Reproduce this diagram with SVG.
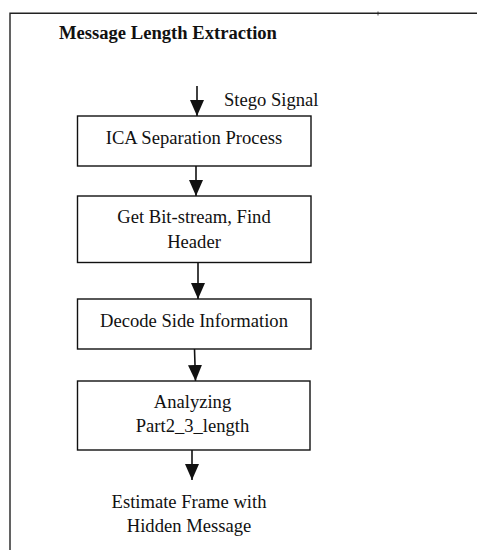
<svg xmlns="http://www.w3.org/2000/svg" width="477" height="550" viewBox="0 0 477 550">
<style>
.t{font-family:"Liberation Serif","Times New Roman",serif;font-size:18.6px;fill:#111;}
.c{text-anchor:middle;}
.b{font-weight:bold;}
.box{fill:#fff;stroke:#111;stroke-width:1.4;}
.ln{stroke:#111;stroke-width:1.6;fill:none;}
.fr{stroke:#222;stroke-width:1.4;fill:none;}
</style>
<defs>
<marker id="ah" markerUnits="userSpaceOnUse" markerWidth="16" markerHeight="16" viewBox="0 0 16 16" refX="16" refY="8" orient="auto">
<path d="M0,1 L16,8 L0,15 Z" fill="#111"/>
</marker>
</defs>
<g id="frame">
<path class="fr" d="M10,550 L10,13.3 L477,13.3"/>
<line x1="378" y1="11.5" x2="378" y2="15.5" stroke="#222" stroke-width="0.8"/>
</g>
<g id="title"><text class="t b" x="59" y="39">Message Length Extraction</text></g>
<g id="connectors">
<line class="ln" x1="197" y1="86" x2="197" y2="116" marker-end="url(#ah)"/>
<line class="ln" x1="196" y1="166" x2="196" y2="196" marker-end="url(#ah)"/>
<line class="ln" x1="198" y1="263" x2="198" y2="299" marker-end="url(#ah)"/>
<line class="ln" x1="194.5" y1="349" x2="195.5" y2="381" marker-end="url(#ah)"/>
<line class="ln" x1="192" y1="450" x2="192" y2="480" marker-end="url(#ah)"/>
</g>
<g id="stego"><text class="t" x="224" y="106">Stego Signal</text></g>
<g id="n1">
<rect class="box" x="77.5" y="116" width="233.5" height="50"/>
<text class="t c" x="194" y="144">ICA Separation Process</text>
</g>
<g id="n2">
<rect class="box" x="77.5" y="196" width="233.5" height="66.5"/>
<text class="t c" x="194" y="223">Get Bit-stream, Find</text>
<text class="t c" x="194" y="248">Header</text>
</g>
<g id="n3">
<rect class="box" x="77.5" y="299" width="233.5" height="50"/>
<text class="t c" x="194" y="327">Decode Side Information</text>
</g>
<g id="n4">
<rect class="box" x="77.5" y="381" width="232.5" height="69"/>
<text class="t c" x="192.5" y="408">Analyzing</text>
<text class="t c" x="192.5" y="432">Part2_3_length</text>
</g>
<g id="out">
<text class="t c" x="189" y="508">Estimate Frame with</text>
<text class="t c" x="189" y="532">Hidden Message</text>
</g>
</svg>
